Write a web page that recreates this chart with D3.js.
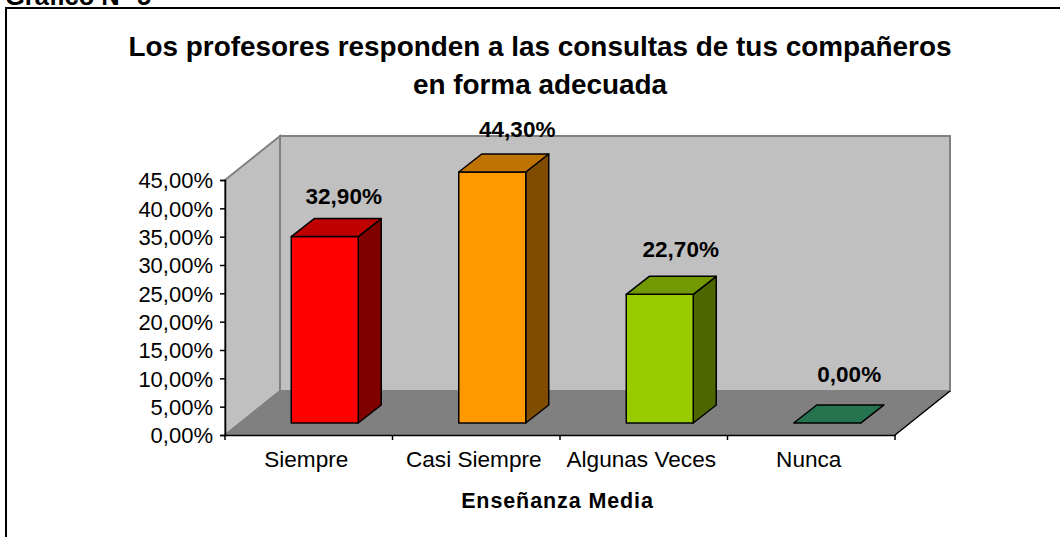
<!DOCTYPE html>
<meta charset="utf-8">
<style>
  html, body { margin: 0; padding: 0; background: #fff; overflow: hidden; }
  text { font-family: "Liberation Sans", Arial, sans-serif; fill: #000; }
</style>
<body>
<script src="https://d3js.org/d3.v7.min.js"></script>
<script>

var categories = ["Siempre", "Casi Siempre", "Algunas Veces", "Nunca"];
var values = [32.9, 44.3, 22.7, 0];
var tickValues = [0, 5, 10, 15, 20, 25, 30, 35, 40, 45];
var frontColors = ["#ff0000", "#ff9900", "#99cc00", "#339966"];
var topColors = ["#bf0000", "#bf7300", "#739900", "#267350"];
var sideColors = ["#800000", "#804d00", "#4d6600", "#1a4d33"];

var titleLines = ["Los profesores responden a las consultas de tus compañeros", "en forma adecuada"];
var xTitle = "Enseñanza Media";
var heading = "Gráfico N° 5";

var svg = d3.select("body").append("svg")
    .attr("width", 1060)
    .attr("height", 537)
    .style("display", "block");

// heading cut off by the top of the picture
svg.append("text")
    .attr("x", 5).attr("y", 5)
    .attr("font-size", 25.5).attr("font-weight", "bold")
    .text(heading);

// outer frame, only top and left are in the picture
svg.append("path")
    .attr("d", "M6,537V8H1060")
    .attr("fill", "none").attr("stroke", "#000").attr("stroke-width", 2);

svg.selectAll(".title")
    .data(titleLines)
  .enter().append("text")
    .attr("class", "title")
    .attr("x", 540)
    .attr("y", function(d, i) { return 56 + i * 38; })
    .attr("text-anchor", "middle")
    .attr("font-size", 27.9).attr("font-weight", "bold")
    .text(function(d) { return d; });

// scales, front plane of the box
var x = d3.scaleBand().domain(categories).range([225, 895]);
var y = d3.scaleLinear().domain([0, 45]).range([435, 180]);

// depth of the box and of the bars
var depth = {x: 55, y: -44};
var barDepth = {x: 23, y: -18};
var barInset = {x: 16, y: -12};
var barWidth = 67;

var line = d3.line();

// back wall, side wall, floor
var x0 = x.range()[0], x1 = x.range()[1], y0 = y(0), y1 = y(45);
svg.append("path")
    .attr("d", line([[x0 + depth.x, y1 + depth.y], [x1 + depth.x, y1 + depth.y], [x1 + depth.x, y0 + depth.y], [x0 + depth.x, y0 + depth.y]]) + "Z")
    .attr("fill", "#c0c0c0").attr("stroke", "#808080").attr("stroke-width", 2);
svg.append("path")
    .attr("d", line([[x0, y1], [x0 + depth.x, y1 + depth.y], [x0 + depth.x, y0 + depth.y], [x0, y0]]) + "Z")
    .attr("fill", "#c0c0c0").attr("stroke", "#808080").attr("stroke-width", 2);
svg.append("path")
    .attr("d", line([[x0, y0], [x0 + depth.x, y0 + depth.y], [x1 + depth.x, y0 + depth.y], [x1, y0]]) + "Z")
    .attr("fill", "#808080").attr("stroke", "#808080").attr("stroke-width", 1);
// dark edge on the right of the floor
svg.append("path")
    .attr("d", line([[x1, y0], [x1 + depth.x, y0 + depth.y]]))
    .attr("stroke", "#000").attr("stroke-width", 1.5).attr("fill", "none");

// bars
var bars = svg.selectAll(".bar")
    .data(values)
  .enter().append("g")
    .attr("class", "bar");

function bx(i) { return x(categories[i]) + (x.bandwidth() - barWidth) / 2 + barInset.x; }
function barTop(d) { return y(d) + barInset.y; }
var barBase = y(0) + barInset.y;

bars.append("path")
    .attr("d", function(d, i) {
      var l = bx(i), r = l + barWidth, t = barTop(d);
      return line([[r, t], [r + barDepth.x, t + barDepth.y], [r + barDepth.x, barBase + barDepth.y], [r, barBase]]) + "Z";
    })
    .attr("fill", function(d, i) { return sideColors[i]; });
bars.append("rect")
    .attr("x", function(d, i) { return bx(i); })
    .attr("y", function(d) { return barTop(d); })
    .attr("width", barWidth)
    .attr("height", function(d) { return barBase - barTop(d); })
    .attr("fill", function(d, i) { return frontColors[i]; });
bars.append("path")
    .attr("d", function(d, i) {
      var l = bx(i), r = l + barWidth, t = barTop(d);
      return line([[l, t], [l + barDepth.x, t + barDepth.y], [r + barDepth.x, t + barDepth.y], [r, t]]) + "Z";
    })
    .attr("fill", function(d, i) { return topColors[i]; });
bars.selectAll("path, rect")
    .attr("stroke", "#000").attr("stroke-width", 1.5).attr("stroke-linejoin", "round");

// value labels, nudged per bar like the original
var labelDx = [19, 25, 21, 22];
var labelDy = [-33, -35, -37, -41];
svg.selectAll(".val")
    .data(values)
  .enter().append("text")
    .attr("class", "val")
    .attr("x", function(d, i) { return bx(i) + barWidth / 2 + labelDx[i]; })
    .attr("y", function(d, i) { return barTop(d) + labelDy[i]; })
    .attr("text-anchor", "middle")
    .attr("font-size", 22.5).attr("font-weight", "bold")
    .text(function(d) { return d.toFixed(2).replace(".", ",") + "%"; });

// axes
var yAxis = d3.axisLeft(y)
    .tickValues(tickValues)
    .tickSize(5)
    .tickFormat(function(d) { return d.toFixed(2).replace(".", ",") + "%"; });
var yG = svg.append("g").attr("transform", "translate(225,0)").call(yAxis);
yG.selectAll("text").attr("font-size", 22).attr("dy", "0.35em").attr("x", -12);
yG.selectAll("line, path").attr("stroke", "#000").attr("stroke-width", 1.5);

var xAxis = d3.axisBottom(x).tickSize(0).tickPadding(16);
var xG = svg.append("g").attr("transform", "translate(0,435)").call(xAxis);
xG.selectAll("text").attr("font-size", 22.6).attr("dy", "0.71em").attr("dx", -2.5);
xG.selectAll("line, path").attr("stroke", "#000").attr("stroke-width", 1.5);

// boundary ticks between categories
var boundaries = [x0].concat(categories.map(function(d) { return x(d) + x.bandwidth(); }));
svg.selectAll(".cat-tick")
    .data(boundaries)
  .enter().append("line")
    .attr("class", "cat-tick")
    .attr("x1", function(d) { return d; })
    .attr("x2", function(d) { return d; })
    .attr("y1", 435).attr("y2", 440)
    .attr("stroke", "#000").attr("stroke-width", 1.5);

svg.append("text")
    .attr("x", 557.5).attr("y", 508)
    .attr("text-anchor", "middle")
    .attr("font-size", 21.5).attr("font-weight", "bold")
    .attr("letter-spacing", 0.9)
    .text(xTitle);

</script>
</body>
